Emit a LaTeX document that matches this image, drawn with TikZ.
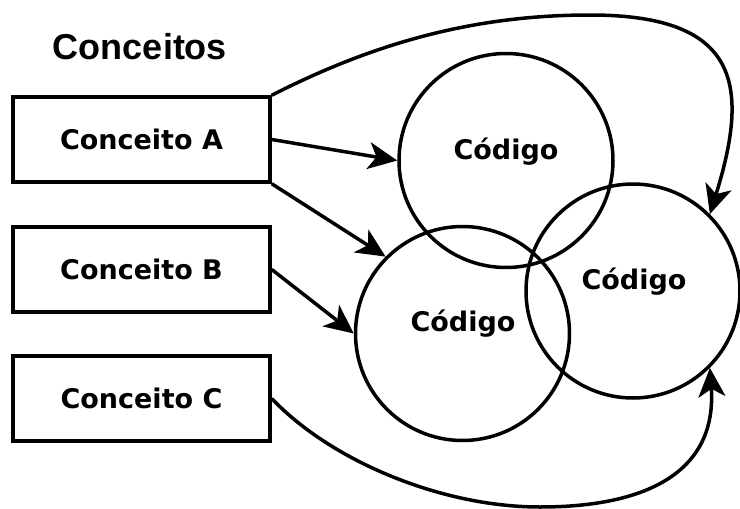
\documentclass[tikz,border=0pt]{standalone}
\usepackage{fontspec}
\setmainfont{DejaVu Sans}
\newfontfamily\titulofont{Liberation Sans}
\usepackage{tikz}
\usetikzlibrary{arrows.meta}
\tikzset{conceito/.style={
    draw=black,
    line width=3.5pt,
    minimum width=257pt,
    minimum height=85pt,
    font=\fontsize{27}{32}\selectfont\bfseries}}
\tikzset{codigo/.style={
    draw=black,
    line width=3.5pt,
    circle,
    minimum size=214pt,
    inner sep=0pt}}
\tikzset{rotulo/.style={
    font=\fontsize{27}{32}\selectfont\bfseries}}
\tikzset{seta/.style={
    draw=black,
    line width=3.5pt,
    -{Stealth[length=29pt,width=27pt,inset=8pt]}}}

\begin{document}
\begin{tikzpicture}[x=1pt,y=-1pt]
\useasboundingbox (0,0) rectangle (740,509);
\coordinate (A) at (141.5,139.5);
\coordinate (B) at (141.5,269.5);
\coordinate (C) at (141.5,398.5);
\coordinate (K1) at (506,160.5);
\coordinate (K2) at (462.5,333.5);
\coordinate (K3) at (633,291);

\node[font=\titulofont\fontsize{36}{40}\selectfont\bfseries] (titulo) at (140,47) {Conceitos};

\node[conceito] (a) at (A) {Conceito A};
\node[conceito] (b) at (B) {Conceito B};
\node[conceito] (c) at (C) {Conceito C};

\node[codigo] (c1) at (K1) {};
\node[codigo] (c2) at (K2) {};
\node[codigo] (c3) at (K3) {};
\node[rotulo] (t1) at (506,152) {Código};
\node[rotulo] (t2) at (463,324) {Código};
\node[rotulo] (t3) at (634,282) {Código};

\path[seta] (a.east) -- (c1.west);
\path[seta] (a.south east) -- (c2.north west);
\path[seta] (b.east) -- (c2.west);
\path[seta] (a.north east) .. controls (380,40) and (480,15) .. (590,15)
  .. controls (740,15) and (750,85) .. (c3.north east);
\path[seta] (c.east) .. controls (330,460) and (440,507) .. (540,507)
  .. controls (650,507) and (717,470) .. (c3.south east);
\end{tikzpicture}
\end{document}
